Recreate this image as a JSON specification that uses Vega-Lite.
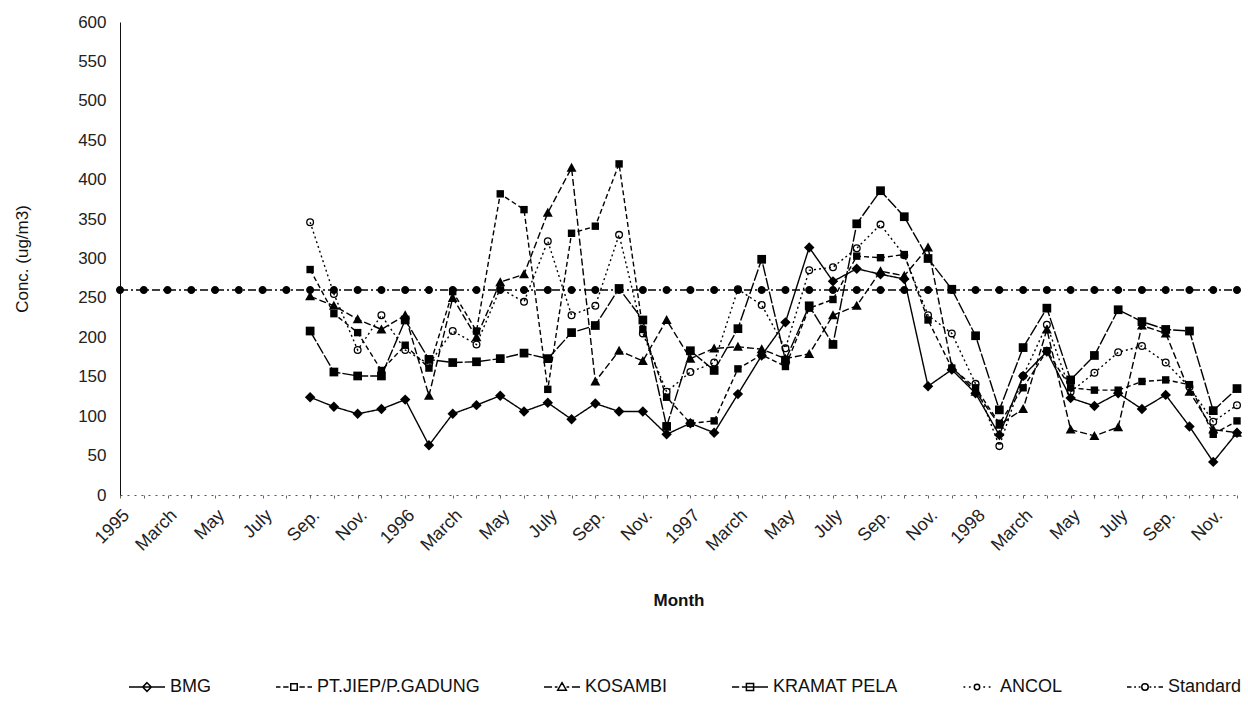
{
  "$schema": "https://vega.github.io/schema/vega-lite/v6.json",
  "width": 1117,
  "height": 473,
  "autosize": {"type": "none"},
  "padding": {"left": 120, "top": 22, "right": 11, "bottom": 218},
  "background": "white",
  "config": {"font": "Liberation Sans", "view": {"stroke": null}},
  "data": {"values": [
    {"m": 0, "STD": 260}, {"m": 1, "STD": 260}, {"m": 2, "STD": 260}, {"m": 3, "STD": 260},
    {"m": 4, "STD": 260}, {"m": 5, "STD": 260}, {"m": 6, "STD": 260}, {"m": 7, "STD": 260},
    {"m": 8, "BMG": 124, "PT": 286, "KOS": 252, "KRA": 208, "ANC": 346, "STD": 260},
    {"m": 9, "BMG": 112, "PT": 230, "KOS": 240, "KRA": 156, "ANC": 255, "STD": 260},
    {"m": 10, "BMG": 103, "PT": 206, "KOS": 223, "KRA": 151, "ANC": 184, "STD": 260},
    {"m": 11, "BMG": 109, "PT": 158, "KOS": 210, "KRA": 151, "ANC": 228, "STD": 260},
    {"m": 12, "BMG": 121, "PT": 190, "KOS": 228, "KRA": 222, "ANC": 184, "STD": 260},
    {"m": 13, "BMG": 63, "PT": 161, "KOS": 126, "KRA": 172, "ANC": 166, "STD": 260},
    {"m": 14, "BMG": 103, "PT": 258, "KOS": 250, "KRA": 168, "ANC": 208, "STD": 260},
    {"m": 15, "BMG": 114, "PT": 208, "KOS": 200, "KRA": 169, "ANC": 191, "STD": 260},
    {"m": 16, "BMG": 126, "PT": 382, "KOS": 270, "KRA": 173, "ANC": 262, "STD": 260},
    {"m": 17, "BMG": 106, "PT": 362, "KOS": 280, "KRA": 180, "ANC": 245, "STD": 260},
    {"m": 18, "BMG": 117, "PT": 134, "KOS": 358, "KRA": 173, "ANC": 322, "STD": 260},
    {"m": 19, "BMG": 96, "PT": 332, "KOS": 415, "KRA": 206, "ANC": 228, "STD": 260},
    {"m": 20, "BMG": 116, "PT": 341, "KOS": 144, "KRA": 215, "ANC": 240, "STD": 260},
    {"m": 21, "BMG": 106, "PT": 420, "KOS": 183, "KRA": 262, "ANC": 330, "STD": 260},
    {"m": 22, "BMG": 106, "PT": 210, "KOS": 170, "KRA": 222, "ANC": 205, "STD": 260},
    {"m": 23, "BMG": 77, "PT": 124, "KOS": 222, "KRA": 87, "ANC": 131, "STD": 260},
    {"m": 24, "BMG": 91, "PT": 91, "KOS": 173, "KRA": 183, "ANC": 156, "STD": 260},
    {"m": 25, "BMG": 79, "PT": 94, "KOS": 186, "KRA": 158, "ANC": 168, "STD": 260},
    {"m": 26, "BMG": 128, "PT": 160, "KOS": 188, "KRA": 211, "ANC": 261, "STD": 260},
    {"m": 27, "BMG": 177, "PT": 178, "KOS": 185, "KRA": 299, "ANC": 241, "STD": 260},
    {"m": 28, "BMG": 219, "PT": 163, "KOS": 173, "KRA": 171, "ANC": 186, "STD": 260},
    {"m": 29, "BMG": 314, "PT": 237, "KOS": 179, "KRA": 240, "ANC": 285, "STD": 260},
    {"m": 30, "BMG": 271, "PT": 248, "KOS": 228, "KRA": 191, "ANC": 289, "STD": 260},
    {"m": 31, "BMG": 287, "PT": 303, "KOS": 240, "KRA": 344, "ANC": 313, "STD": 260},
    {"m": 32, "BMG": 280, "PT": 301, "KOS": 284, "KRA": 386, "ANC": 343, "STD": 260},
    {"m": 33, "BMG": 274, "PT": 305, "KOS": 278, "KRA": 353, "ANC": 304, "STD": 260},
    {"m": 34, "BMG": 138, "PT": 222, "KOS": 314, "KRA": 300, "ANC": 228, "STD": 260},
    {"m": 35, "BMG": 159, "PT": 161, "KOS": 163, "KRA": 261, "ANC": 205, "STD": 260},
    {"m": 36, "BMG": 129, "PT": 136, "KOS": 131, "KRA": 202, "ANC": 141, "STD": 260},
    {"m": 37, "BMG": 76, "PT": 91, "KOS": 89, "KRA": 108, "ANC": 62, "STD": 260},
    {"m": 38, "BMG": 151, "PT": 136, "KOS": 109, "KRA": 187, "ANC": 151, "STD": 260},
    {"m": 39, "BMG": 182, "PT": 183, "KOS": 210, "KRA": 237, "ANC": 216, "STD": 260},
    {"m": 40, "BMG": 123, "PT": 136, "KOS": 83, "KRA": 146, "ANC": 131, "STD": 260},
    {"m": 41, "BMG": 113, "PT": 133, "KOS": 75, "KRA": 177, "ANC": 155, "STD": 260},
    {"m": 42, "BMG": 129, "PT": 133, "KOS": 86, "KRA": 235, "ANC": 181, "STD": 260},
    {"m": 43, "BMG": 109, "PT": 144, "KOS": 215, "KRA": 220, "ANC": 189, "STD": 260},
    {"m": 44, "BMG": 127, "PT": 146, "KOS": 205, "KRA": 210, "ANC": 168, "STD": 260},
    {"m": 45, "BMG": 87, "PT": 140, "KOS": 131, "KRA": 208, "ANC": 137, "STD": 260},
    {"m": 46, "BMG": 42, "PT": 77, "KOS": 83, "KRA": 107, "ANC": 93, "STD": 260},
    {"m": 47, "BMG": 79, "PT": 94, "KOS": 79, "KRA": 135, "ANC": 114, "STD": 260}
  ]},
  "transform": [
    {"fold": ["BMG", "PT", "KOS", "KRA", "ANC", "STD"], "as": ["s", "v"]},
    {"filter": "isValid(datum.v)"}
  ],
  "encoding": {
    "x": {
      "field": "m", "type": "quantitative",
      "scale": {"domain": [0, 47], "nice": false, "zero": false},
      "axis": {
        "values": [0,1,2,3,4,5,6,7,8,9,10,11,12,13,14,15,16,17,18,19,20,21,22,23,24,25,26,27,28,29,30,31,32,33,34,35,36,37,38,39,40,41,42,43,44,45,46,47],
        "labelExpr": "datum.value % 2 == 0 ? ['1995','March','May','July','Sep.','Nov.','1996','March','May','July','Sep.','Nov.','1997','March','May','July','Sep.','Nov.','1998','March','May','July','Sep.','Nov.'][datum.value / 2] : ''",
        "labelAngle": -45, "labelAlign": "right", "labelBaseline": "top",
        "labelFontSize": 18, "labelColor": "#222", "labelPadding": 8,
        "labelOverlap": false, "labelFlush": false, "labelBound": false,
        "grid": false, "ticks": true, "tickSize": 3, "tickColor": "#666",
        "domainColor": "#555", "domainDash": [2, 5], "domainWidth": 1,
        "title": "Month", "titleFontSize": 17, "titleFontWeight": "bold", "titleColor": "#111", "titlePadding": 38
      }
    },
    "y": {
      "field": "v", "type": "quantitative",
      "scale": {"domain": [0, 600], "nice": false},
      "axis": {
        "values": [0,50,100,150,200,250,300,350,400,450,500,550,600],
        "grid": false, "ticks": false, "tickSize": 0,
        "domainColor": "#111", "domainWidth": 1,
        "labelFontSize": 17, "labelColor": "#222", "labelPadding": 14, "labelFlush": false,
        "title": "Conc. (ug/m3)", "titleFontSize": 17, "titleFontWeight": "normal", "titleColor": "#111", "titlePadding": 46
      }
    }
  },
  "layer": [
    {
      "mark": {"type": "line", "color": "black", "strokeWidth": 1.4},
      "encoding": {
        "strokeDash": {
          "field": "s", "type": "nominal",
          "scale": {"domain": ["BMG", "PT", "KOS", "KRA", "ANC", "STD"], "range": [[1, 0], [5, 3], [7, 3], [12, 2], [2, 3], [8, 3, 2, 3]]},
          "legend": null
        }
      }
    },
    {
      "transform": [{"filter": "datum.s == 'STD'"}],
      "mark": {"type": "point", "filled": true, "color": "black", "opacity": 1, "size": 90, "shape": "M-0.85,0A0.85,0.85 0 1,1 0.85,0A0.85,0.85 0 1,1 -0.85,0Z"}
    },
    {
      "transform": [{"filter": "datum.s == 'BMG'"}],
      "mark": {"type": "point", "filled": true, "color": "black", "opacity": 1, "size": 90, "shape": "M0,-1.1L1.1,0L0,1.1L-1.1,0Z"}
    },
    {
      "transform": [{"filter": "datum.s == 'PT'"}],
      "mark": {"type": "point", "filled": true, "color": "black", "opacity": 1, "size": 90, "shape": "M-0.78,-0.78H0.78V0.78H-0.78Z"}
    },
    {
      "transform": [{"filter": "datum.s == 'KOS'"}],
      "mark": {"type": "point", "filled": true, "color": "black", "opacity": 1, "size": 90, "shape": "M0,-1.05L1.05,0.85H-1.05Z"}
    },
    {
      "transform": [{"filter": "datum.s == 'KRA'"}],
      "mark": {"type": "point", "filled": true, "color": "black", "opacity": 1, "size": 90, "shape": "M-0.92,-0.92H0.92V0.92H-0.92Z"}
    },
    {
      "transform": [{"filter": "datum.s == 'ANC'"}],
      "mark": {"type": "point", "filled": false, "color": "black", "opacity": 1, "size": 45, "strokeWidth": 1.3, "shape": "circle"}
    },
    {
      "mark": {"type": "point", "filled": false, "color": "black", "opacity": 1, "size": 0, "strokeWidth": 1.5},
      "encoding": {
        "shape": {
          "field": "s", "type": "nominal",
          "scale": {"domain": ["BMG", "PT", "KOS", "KRA", "ANC", "STD"], "range": [
            "M-1,0H1M0,-0.24L0.24,0L0,0.24L-0.24,0Z",
            "M-1,0H-0.75M-0.6,0H-0.3M0.3,0H0.6M0.75,0H1M-0.18,-0.18H0.18V0.18H-0.18Z",
            "M-1,0H-0.55M-0.4,0H-0.25M0.25,0H0.4M0.55,0H1M0,-0.24L0.24,0.18H-0.24Z",
            "M-1,0H-0.6M-0.45,0H1M-0.2,-0.2H0.2V0.2H-0.2Z",
            "M-0.75,0H-0.65M-0.45,0H-0.35M0.35,0H0.45M0.65,0H0.75M-0.15,0A0.15,0.15 0 1,1 0.15,0A0.15,0.15 0 1,1 -0.15,0Z",
            "M-1,0H-0.75M-0.6,0H-0.5M-0.35,0H-0.25M0.25,0H0.35M0.5,0H0.6M0.75,0H1M-0.18,0A0.18,0.18 0 1,1 0.18,0A0.18,0.18 0 1,1 -0.18,0Z"
          ]},
          "legend": {
            "orient": "none", "legendX": 8, "legendY": 646,
            "direction": "horizontal", "columns": 6, "title": null,
            "symbolSize": 1300, "symbolStrokeWidth": 1.5, "symbolFillColor": "black", "symbolStrokeColor": "black", "symbolOpacity": 1,
            "labelFontSize": 18, "labelColor": "#111", "labelOffset": 4, "labelLimit": 400, "columnPadding": 60,
            "labelExpr": "datum.label == 'PT' ? 'PT.JIEP/P.GADUNG' : datum.label == 'KOS' ? 'KOSAMBI' : datum.label == 'KRA' ? 'KRAMAT PELA' : datum.label == 'ANC' ? 'ANCOL' : datum.label == 'STD' ? 'Standard' : datum.label"
          }
        }
      }
    }
  ],
  "resolve": {"scale": {"shape": "independent"}, "legend": {"shape": "independent"}}
}
